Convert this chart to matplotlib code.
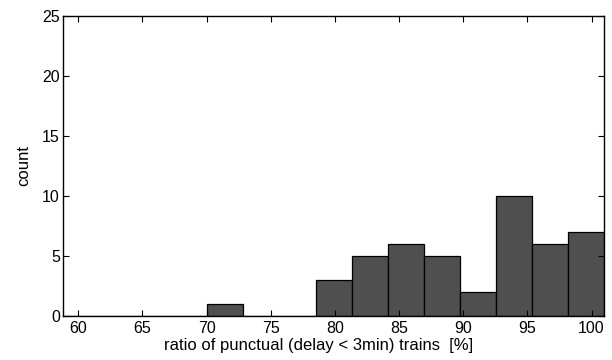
import numpy as np
import matplotlib
matplotlib.use("Agg")
import matplotlib.pyplot as plt

plt.rcParams['font.family'] = ['Liberation Sans', 'DejaVu Sans']

# histogram bin edges (percent) and counts
bin_edges = np.array([58.79, 61.60, 64.42, 67.23, 70.05, 72.86, 75.68, 78.49,
                      81.30, 84.12, 86.93, 89.75, 92.56, 95.38, 98.19, 101.00])
counts = [0, 0, 0, 0, 1, 0, 0, 3, 5, 6, 5, 2, 10, 6, 7]
x_ticks = [60, 65, 70, 75, 80, 85, 90, 95, 100]
y_ticks = [0, 5, 10, 15, 20, 25]

fig = plt.figure(figsize=(6.12, 3.6), dpi=100)
ax = fig.add_axes([0.1025, 0.1222, 0.885, 0.8342])

ax.bar(bin_edges[:-1], counts, width=np.diff(bin_edges), align='edge',
       color='#4f4f4f', edgecolor='black', linewidth=0.9)

ax.set_xlim(bin_edges[0], bin_edges[-1])
ax.set_ylim(0, 25)
ax.set_xticks(x_ticks)
ax.set_yticks(y_ticks)
ax.tick_params(direction='in', length=4, width=0.8, top=True, right=True,
               labelsize=11.5)
ax.tick_params(axis='x', pad=3.5)
ax.tick_params(axis='y', pad=2)
for s in ax.spines.values():
    s.set_linewidth(1.0)
    s.set_color('black')

ax.set_xlabel('ratio of punctual (delay < 3min) trains  [%]', fontsize=12)
ax.set_ylabel('count', fontsize=12)
ax.xaxis.set_label_coords(0.473, -0.072)
ax.yaxis.set_label_coords(-0.058, 0.5)

fig.savefig('out.png', dpi=100)
